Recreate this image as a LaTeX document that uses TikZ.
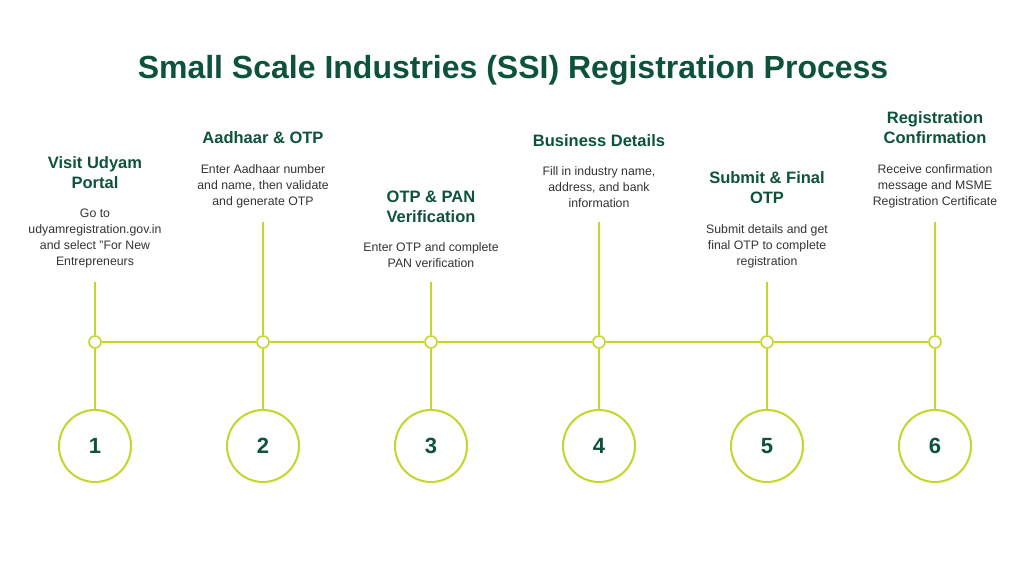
\documentclass[tikz,border=0pt]{standalone}
\usepackage{fontspec}
\setmainfont{Liberation Sans}
\usetikzlibrary{positioning}
\definecolor{vertfonce}{RGB}{13, 82, 58}
\definecolor{vertlime}{RGB}{196, 214, 42}
\definecolor{grisfonce}{RGB}{51, 51, 51}

\begin{document}
\begin{tikzpicture}[
    x=1pt, y=-1pt,
    trait/.style={draw=vertlime, line width=2pt},
    dot/.style={circle, draw=vertlime, line width=1.6pt, fill=white,
                minimum size=12pt, inner sep=0pt},
    numero/.style={circle, draw=vertlime, line width=2pt, fill=white,
                   minimum size=72pt, inner sep=0pt, text=vertfonce,
                   font=\fontsize{22}{26}\selectfont\bfseries},
    corps/.style={align=center, inner sep=0pt, anchor=south, text=grisfonce,
                  font=\fontsize{12.3}{16}\selectfont},
    titre/.style={align=center, inner sep=0pt, text=vertfonce,
                  font=\fontsize{16.5}{20}\selectfont\bfseries}
]
\useasboundingbox (0,0) rectangle (1025,578);

% --- Titre ---
\node[text=vertfonce, font=\fontsize{32}{38}\selectfont\bfseries] (title)
    at (513,70) {Small Scale Industries (SSI) Registration Process};

% ============================================================
%  LIGNE DU TEMPS
% ============================================================
\node[dot] (dot1) at (95,342)  {};
\node[dot] (dot2) at (263,342) {};
\node[dot] (dot3) at (431,342) {};
\node[dot] (dot4) at (599,342) {};
\node[dot] (dot5) at (767,342) {};
\node[dot] (dot6) at (935,342) {};

\draw[trait] (dot1) -- (dot2);
\draw[trait] (dot2) -- (dot3);
\draw[trait] (dot3) -- (dot4);
\draw[trait] (dot4) -- (dot5);
\draw[trait] (dot5) -- (dot6);

% ============================================================
%  CERCLES NUMEROTES
% ============================================================
\node[numero] (num1) at (95,446)  {1};
\node[numero] (num2) at (263,446) {2};
\node[numero] (num3) at (431,446) {3};
\node[numero] (num4) at (599,446) {4};
\node[numero] (num5) at (767,446) {5};
\node[numero] (num6) at (935,446) {6};

% ============================================================
%  TEXTES DES ETAPES
% ============================================================
\node[corps] (body1) at (95,268) {Go to\\udyamregistration.gov.in\\and select "For New\\Entrepreneurs};
\node[titre, above=20pt of body1] (head1) {Visit Udyam\\Portal};

\node[corps] (body2) at (263,208) {Enter Aadhaar number\\and name, then validate\\and generate OTP};
\node[titre, above=20pt of body2] (head2) {Aadhaar \& OTP};

\node[corps] (body3) at (431,268) {Enter OTP and complete\\PAN verification};
\node[titre, above=20pt of body3] (head3) {OTP \& PAN\\Verification};

\node[corps] (body4) at (599,208) {Fill in industry name,\\address, and bank\\information};
\node[titre, above=20pt of body4] (head4) {Business Details};

\node[corps] (body5) at (767,268) {Submit details and get\\final OTP to complete\\registration};
\node[titre, above=20pt of body5] (head5) {Submit \& Final\\OTP};

\node[corps] (body6) at (935,208) {Receive confirmation\\message and MSME\\Registration Certificate};
\node[titre, above=20pt of body6] (head6) {Registration\\Confirmation};

% ============================================================
%  TIGES VERTICALES
% ============================================================
\coordinate (top1) at (95,282);
\coordinate (top2) at (263,222);
\coordinate (top3) at (431,282);
\coordinate (top4) at (599,222);
\coordinate (top5) at (767,282);
\coordinate (top6) at (935,222);

\draw[trait] (top1) -- (dot1) -- (num1);
\draw[trait] (top2) -- (dot2) -- (num2);
\draw[trait] (top3) -- (dot3) -- (num3);
\draw[trait] (top4) -- (dot4) -- (num4);
\draw[trait] (top5) -- (dot5) -- (num5);
\draw[trait] (top6) -- (dot6) -- (num6);

\end{tikzpicture}
\end{document}
